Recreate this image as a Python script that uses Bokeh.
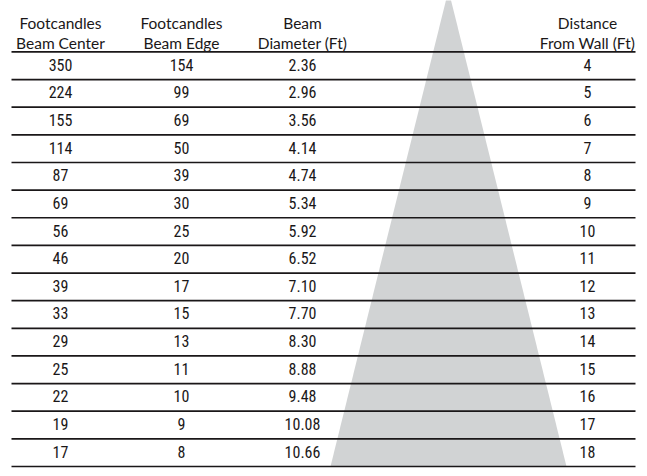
from bokeh.plotting import figure
from bokeh.models import Range1d, ColumnDataSource
from bokeh.core.properties import value
from bokeh.embed import file_html
from bokeh.resources import INLINE

# ---- data ----
fc_center = [350, 224, 155, 114, 87, 69, 56, 46, 39, 33, 29, 25, 22, 19, 17]
fc_edge = [154, 99, 69, 50, 39, 30, 25, 20, 17, 15, 13, 11, 10, 9, 8]
beam_diam = ["2.36", "2.96", "3.56", "4.14", "4.74", "5.34", "5.92", "6.52",
             "7.10", "7.70", "8.30", "8.88", "9.48", "10.08", "10.66"]
distance = [4, 5, 6, 7, 8, 9, 10, 11, 12, 13, 14, 15, 16, 17, 18]
headers_line1 = ["Footcandles", "Footcandles", "Beam", "Distance"]
headers_line2 = ["Beam Center", "Beam Edge", "Diameter (Ft)", "From Wall (Ft)"]

# ---- layout (x in pixel-like units, y in row units) ----
col_x = [60, 181, 302, 587]
line_left, line_right = 11, 635
cone_cx, cone_half_base, cone_apex_row = 448, 118, -2.24
n = len(distance)

p = figure(width=639, height=468, output_backend="svg", toolbar_location=None,
           x_range=Range1d(0, 639), y_range=Range1d(15.073, -1.861),
           min_border=0, outline_line_color=None, background_fill_color="white")
p.axis.visible = False
p.grid.visible = False

# beam cone
p.patch(x=[cone_cx - cone_half_base, cone_cx, cone_cx + cone_half_base],
        y=[n, cone_apex_row, n], fill_color="#d1d3d4", line_color=None)

# rule lines
rows = list(range(n + 1))
p.segment(x0=[line_left] * (n + 1), x1=[line_right] * (n + 1), y0=rows, y1=rows,
          line_color="#1a1718", line_width=1.7)

# headers
hfont = value("Lato")
p.text(x=col_x, y=[-1.05] * 4, text=headers_line1, text_align="center",
       text_baseline="alphabetic", text_font=hfont, text_font_size="15.5px",
       text_color="#1a1718")
p.text(x=col_x, y=[-0.34] * 4, text=headers_line2, text_align="center",
       text_baseline="alphabetic", text_font=hfont, text_font_size="15.5px",
       text_color="#1a1718")

# body
src = ColumnDataSource(dict(
    y=[i + 0.5 for i in range(n)],
    c=[str(v) for v in fc_center],
    e=[str(v) for v in fc_edge],
    d=beam_diam,
    w=[str(v) for v in distance],
))
nfont = value("Roboto Condensed")
for cx, field in zip(col_x, ["c", "e", "d", "w"]):
    p.text(x=cx, y="y", text=field, source=src, text_align="center",
           text_baseline="middle", text_font=nfont, text_font_size="16px",
           text_color="#1a1718", y_offset=-1)

open("out.html", "w").write(file_html(p, INLINE))
